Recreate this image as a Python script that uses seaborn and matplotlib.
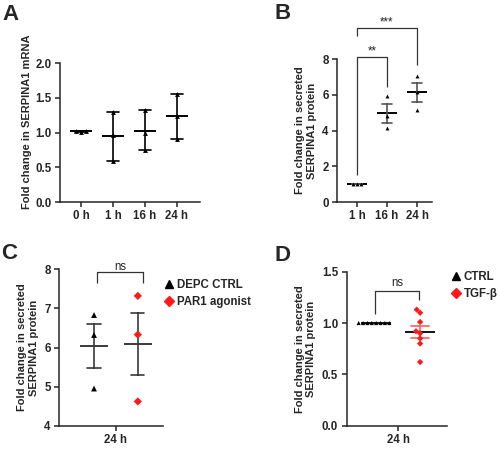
import matplotlib
matplotlib.use("Agg")
import matplotlib.pyplot as plt
from matplotlib.lines import Line2D
import pandas as pd
import seaborn as sns

# panel A: SERPINA1 mRNA, fold change per time point
a_times = ["0 h", "1 h", "16 h", "24 h"]
a_0h = [1.01, 1.02, 1.02]
a_1h = [1.29, 0.97, 0.59]
a_16h = [1.33, 0.99, 0.75]
a_24h = [1.56, 1.24, 0.91]

# panel B: secreted SERPINA1 protein
b_times = ["1 h", "16 h", "24 h"]
b_1h = [1.0, 1.0, 1.0]
b_16h = [5.95, 4.80, 4.16]
b_24h = [7.07, 6.15, 5.17]

# panel C: PAR1 agonist at 24 h
c_groups = ["DEPC CTRL", "PAR1 agonist"]
c_ctrl = [6.83, 6.32, 4.95]
c_par1 = [7.32, 6.33, 4.62]

# panel D: TGF-beta at 24 h
d_groups = ["CTRL", "TGF-β"]
d_ctrl = [1.0, 1.0, 1.0, 1.0, 1.0, 1.0, 1.0, 1.0]
d_tgf = [1.13, 1.10, 1.01, 0.92, 0.90, 0.85, 0.80, 0.62]

RED = "#ff1a1a"
FS = 8.3
LFS = 8.0


def long_df(labels, series, col):
    rows = []
    for lab, vals in zip(labels, series):
        for v in vals:
            rows.append({col: lab, "value": v})
    return pd.DataFrame(rows)


def style_axis(ax):
    sns.despine(ax=ax)
    for s in ("left", "bottom"):
        ax.spines[s].set_linewidth(1.1)
    ax.tick_params(direction="out", length=3.5, width=1.1, labelsize=FS, pad=2.5)
    for lab in ax.get_xticklabels() + ax.get_yticklabels():
        lab.set_fontweight("bold")
    ax.set_xlabel("")


def bracket(ax, x0, x1, y, y0, y1, text, ty, bold=False):
    ax.plot([x0, x0, x1, x1], [y0, y, y, y1], color="#333333", lw=0.9,
            clip_on=False, solid_capstyle="butt")
    ax.text((x0 + x1) / 2, ty, text, ha="center", va="center", fontsize=FS,
            fontweight="bold" if bold else "normal", clip_on=False)


def legend(ax, labels, anchor):
    handles = [Line2D([], [], ls="none", marker="^", color="black", markersize=5.5),
               Line2D([], [], ls="none", marker="D", color=RED, markersize=5.5)]
    ax.legend(handles, labels, loc="upper left", bbox_to_anchor=anchor,
              bbox_transform=fig.transFigure, frameon=False, handlelength=0.8,
              handletextpad=0.3, labelspacing=0.45, borderpad=0, borderaxespad=0,
              prop={"weight": "bold", "size": FS})


sns.set_style("ticks")
plt.rcParams["font.family"] = ["Liberation Sans", "DejaVu Sans"]
plt.rcParams["axes.labelweight"] = "bold"
plt.rcParams["axes.labelsize"] = LFS

fig = plt.figure(figsize=(5, 4.49), dpi=100)
axA = fig.add_axes([0.12, 0.550, 0.28, 0.3096])
axB = fig.add_axes([0.674, 0.550, 0.19, 0.3185])
axC = fig.add_axes([0.118, 0.0519, 0.208, 0.3483])
axD = fig.add_axes([0.693, 0.0519, 0.2, 0.343])

# A
dfA = long_df(a_times, [a_0h, a_1h, a_16h, a_24h], "time")
sns.swarmplot(data=dfA, x="time", y="value", order=a_times, marker="^",
              size=3.5, color="black", ax=axA)
sns.pointplot(data=dfA, x="time", y="value", order=a_times,
              errorbar=("pi", 100), capsize=0.37, linestyle="none",
              marker="_", markersize=16, markeredgewidth=1.4, color="black",
              err_kws={"linewidth": 1.2}, ax=axA)
axA.set_xlim(-0.66, 3.72)
axA.set_ylim(0, 2)
axA.set_yticks([0, 0.5, 1.0, 1.5, 2.0])
axA.set_ylabel("Fold change in SERPINA1 mRNA")
style_axis(axA)
axA.yaxis.set_label_coords(-0.2, 0.58)

# B
dfB = long_df(b_times, [b_1h, b_16h, b_24h], "time")
sns.swarmplot(data=dfB, x="time", y="value", order=b_times, marker="^",
              size=2.8, color="black", ax=axB)
sns.pointplot(data=dfB, x="time", y="value", order=b_times,
              errorbar="se", capsize=0.33, linestyle="none",
              marker="_", markersize=14.5, markeredgewidth=1.4, color="black",
              err_kws={"linewidth": 1.2, "color": "#555555"}, ax=axB)
axB.set_xlim(-0.67, 2.5)
axB.set_ylim(0, 8)
axB.set_yticks([0, 2, 4, 6, 8])
axB.set_ylabel("Fold change in secreted\nSERPINA1 protein", labelpad=4)
style_axis(axB)
bracket(axB, 0, 1, 8.1, 1.5, 6.45, "**", 8.42)
bracket(axB, 0, 2, 9.75, 9.3, 7.65, "***", 10.05)

# C
dfC = long_df(c_groups, [c_ctrl, c_par1], "group")
dfC["time"] = "24 h"
for grp, mk, col in zip(c_groups, ["^", "D"], ["black", RED]):
    sns.stripplot(data=dfC[dfC["group"] == grp], x="time", y="value",
                  hue="group", hue_order=c_groups, palette={g: col for g in c_groups},
                  dodge=True, jitter=False, marker=mk, size=4.2, legend=False, ax=axC)
sns.pointplot(data=dfC, x="time", y="value", hue="group", hue_order=c_groups,
              dodge=0.4, errorbar="se", capsize=0.12, linestyle="none",
              marker="_", markersize=20, markeredgewidth=1.4,
              palette={g: "#3a3a3a" for g in c_groups},
              err_kws={"linewidth": 1.2}, legend=False, ax=axC)
axC.set_xlim(-0.52, 0.43)
axC.set_ylim(4, 8)
axC.set_yticks([4, 5, 6, 7, 8])
axC.set_ylabel("Fold change in secreted\nSERPINA1 protein", labelpad=4)
style_axis(axC)
bracket(axC, -0.17, 0.25, 7.92, 7.65, 7.65, "ns", 8.07)
legend(axC, c_groups, (0.328, 0.378))

# D
dfD = long_df(d_groups, [d_ctrl, d_tgf], "group")
dfD["time"] = "24 h"
for grp, mk, col, sz in zip(d_groups, ["^", "D"], ["black", RED], [3.0, 3.2]):
    sns.swarmplot(data=dfD[dfD["group"] == grp], x="time", y="value",
                  hue="group", hue_order=d_groups, palette={g: col for g in d_groups},
                  dodge=True, marker=mk, size=sz, legend=False, ax=axD)
sns.pointplot(data=dfD[dfD["group"] == "TGF-β"], x="time", y="value",
              hue="group", hue_order=d_groups, dodge=0.4, errorbar="se",
              capsize=0.17, linestyle="none", marker="",
              palette={g: "#ff6b6b" for g in d_groups},
              err_kws={"linewidth": 1.3}, legend=False, ax=axD)
sns.pointplot(data=dfD, x="time", y="value", hue="group", hue_order=d_groups,
              dodge=0.4, errorbar=None, linestyle="none", marker="_",
              markersize=21, markeredgewidth=1.3,
              palette={g: "black" for g in d_groups}, legend=False, ax=axD)
axD.set_xlim(-0.47, 0.44)
axD.set_ylim(0, 1.5)
axD.set_yticks([0, 0.5, 1.0, 1.5])
axD.set_ylabel("Fold change in secreted\nSERPINA1 protein", labelpad=4)
style_axis(axD)
bracket(axD, -0.21, 0.19, 1.31, 1.09, 1.22, "ns", 1.386)
legend(axD, d_groups, (0.902, 0.396))

# panel letters
for lab, x, y in [("A", 0.004, 0.992), ("B", 0.548, 0.994),
                  ("C", 0.002, 0.459), ("D", 0.548, 0.454)]:
    fig.text(x, y, lab, fontsize=16, fontweight="bold", ha="left", va="top")

fig.savefig("out.png", dpi=100)
